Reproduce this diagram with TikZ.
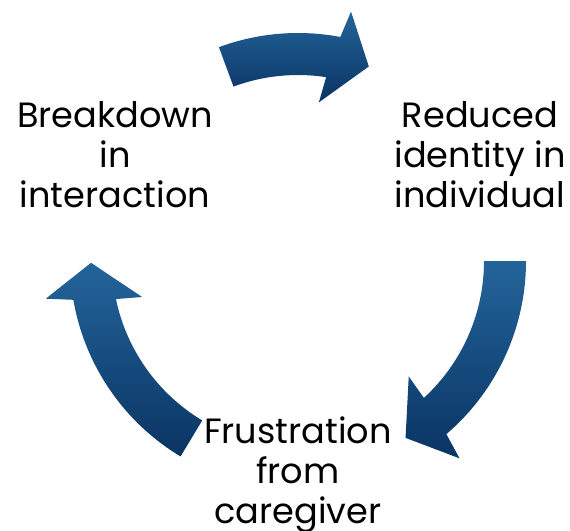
\documentclass[tikz,border=0pt]{standalone}
\usepackage{fontspec}
\setmainfont{Poppins}
\usepackage{tikz}
\definecolor{cyclelight}{HTML}{23649A}
\definecolor{cycledark}{HTML}{0A3463}

\begin{document}
\begin{tikzpicture}[x=0.02cm, y=0.02cm,
  every node/.style={font=\fontsize{20}{22.7}\selectfont, align=center, inner sep=0pt},
  cyclearrow/.style={top color=cyclelight, bottom color=cycledark, draw=none}]
  \useasboundingbox (0,0) rectangle (570,-530);
  \coordinate (hub) at (298,-261);
  % block arrows: tail angle / tip angle, clockwise round the hub
  \foreach \tail/\tip in {110.3/70, 0/-58.7, 239/180.5} {
    \pgfmathsetmacro\outerend{\tip+9.3}
    \pgfmathsetmacro\innerend{\tip+11.3}
    \shade[cyclearrow, shift={(hub)}] (\tail:228) arc[start angle=\tail, end angle=\outerend, radius=228]
      -- ({\tip+8}:255) -- (\tip:207) -- ({\tip+12.5}:160) -- (\innerend:186)
      arc[start angle=\innerend, end angle=\tail, radius=186] -- cycle;
  }
  \node (breakdown) at (115,-155) {Breakdown\\in\\interaction};
  \node (identity) at (480,-155) {Reduced\\identity in\\individual};
  \node (frustration) at (298,-475) {Frustration\\from\\caregiver};
\end{tikzpicture}
\end{document}
